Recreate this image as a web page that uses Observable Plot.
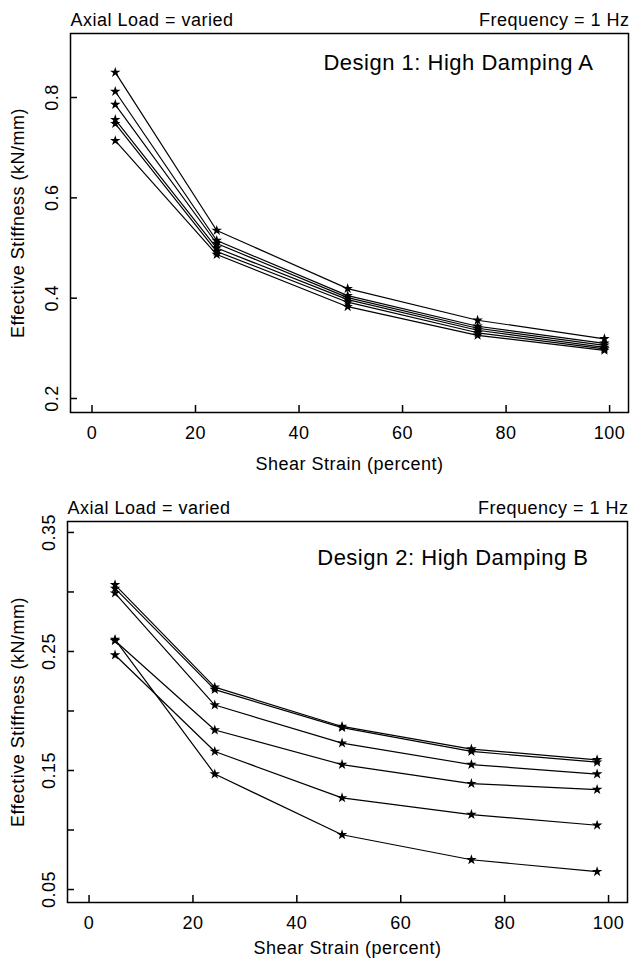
<!DOCTYPE html>
<html>
<head>
<meta charset="utf-8">
<script src="https://cdn.jsdelivr.net/npm/d3@7"></script>
<script src="https://cdn.jsdelivr.net/npm/@observablehq/plot@0.6"></script>
<style>
  body { margin: 0; background: #fff; }
  #chart { width: 632px; height: 966px; overflow: hidden; }
  #chart svg { display: block; }
</style>
</head>
<body>
<div id="chart"></div>
<script>
// ---- Design 1 (High Damping A) ----
const strain1 = [4.5, 24.1, 49.4, 74.5, 99.0];
const d1_s1 = [0.850, 0.535, 0.419, 0.356, 0.319];
const d1_s2 = [0.812, 0.515, 0.405, 0.344, 0.310];
const d1_s3 = [0.786, 0.509, 0.401, 0.340, 0.306];
const d1_s4 = [0.756, 0.500, 0.397, 0.336, 0.302];
const d1_s5 = [0.748, 0.493, 0.392, 0.331, 0.299];
const d1_s6 = [0.714, 0.487, 0.383, 0.326, 0.296];

// ---- Design 2 (High Damping B) ----
const strain2 = [5.0, 24.2, 48.7, 73.6, 97.8];
const d2_s1 = [0.306, 0.220, 0.187, 0.168, 0.159];
const d2_s2 = [0.303, 0.218, 0.186, 0.166, 0.157];
const d2_s3 = [0.299, 0.205, 0.173, 0.155, 0.147];
const d2_s4 = [0.259, 0.184, 0.155, 0.139, 0.134];
const d2_s5 = [0.247, 0.166, 0.127, 0.113, 0.104];
const d2_s6 = [0.260, 0.147, 0.096, 0.075, 0.065];

// ---- ticks & texts ----
const xTicks = [0, 20, 40, 60, 80, 100];
const y1Ticks = [0.2, 0.4, 0.6, 0.8];
const y2Ticks = [0.05, 0.10, 0.15, 0.20, 0.25, 0.30, 0.35];
const y2LabelTicks = [0.05, 0.15, 0.25, 0.35];
const headLeft = "Axial Load = varied";
const headRight = "Frequency = 1 Hz";
const title1 = "Design 1: High Damping A";
const title2 = "Design 2: High Damping B";
const xLabel = "Shear Strain (percent)";
const yLabel = "Effective Stiffness (kN/mm)";

function rows(strain, series) {
  return series.flatMap((vals, i) => vals.map((v, j) => ({s: i, x: strain[j], y: v})));
}

function panel(o) {
  return Plot.plot({
    width: 632,
    height: o.height,
    marginTop: o.m[0], marginRight: o.m[1], marginBottom: o.m[2], marginLeft: o.m[3],
    style: {fontFamily: "'Liberation Sans', Arial, sans-serif", fontSize: "18px", color: "#000", background: "#fff", overflow: "visible", letterSpacing: "0.5px"},
    x: {domain: [-4.15, 103.65]},
    y: {domain: o.yDomain},
    marks: [
      Plot.frame({stroke: "#000", strokeWidth: 1.5}),
      Plot.axisX({ticks: xTicks, tickSize: -7, tickPadding: 21, tickFormat: d => String(d), label: null, strokeWidth: 1.5}),
      Plot.axisY({ticks: o.yTicks, tickSize: -7, tickFormat: () => "", label: null, strokeWidth: 1.5}),
      Plot.axisY({ticks: o.yLabelTicks, tickSize: 0, tickRotate: -90, tickPadding: 13, tickFormat: o.yFmt, label: null}),
      Plot.line(o.data, {x: "x", y: "y", z: "s", stroke: "#000", strokeWidth: 1.2}),
      Plot.dot(o.data, {x: "x", y: "y", symbol: "star", r: 3.3, fill: "#000", stroke: "none"}),
      Plot.text([o.title], {frameAnchor: "top-right", dx: o.titleDx, dy: o.titleDy, textAnchor: "end", lineAnchor: "middle", fontSize: 22}),
      Plot.text([headLeft], {frameAnchor: "top-left", dx: 0, dy: -13, textAnchor: "start", lineAnchor: "middle"}),
      Plot.text([headRight], {frameAnchor: "top-right", dx: 1, dy: -13, textAnchor: "end", lineAnchor: "middle"}),
      Plot.text([xLabel], {frameAnchor: "bottom", dy: o.xLabelDy, textAnchor: "middle", lineAnchor: "middle"}),
      Plot.text([yLabel], {frameAnchor: "left", dx: o.yLabelDx, rotate: -90, textAnchor: "middle", lineAnchor: "middle"})
    ]
  });
}

const chart = document.getElementById("chart");
chart.append(panel({
  height: 483,
  m: [33, 4, 71, 70],
  yDomain: [0.1721, 0.9276],
  yTicks: y1Ticks,
  yLabelTicks: y1Ticks,
  yFmt: d => d.toFixed(1),
  data: rows(strain1, [d1_s1, d1_s2, d1_s3, d1_s4, d1_s5, d1_s6]),
  title: title1, titleDx: -35, titleDy: 29,
  xLabelDy: 52, yLabelDx: -52
}));
chart.append(panel({
  height: 483,
  m: [38, 5, 64, 67],
  yDomain: [0.0391, 0.3592],
  yTicks: y2Ticks,
  yLabelTicks: y2LabelTicks,
  yFmt: d => d.toFixed(2),
  data: rows(strain2, [d2_s1, d2_s2, d2_s3, d2_s4, d2_s5, d2_s6]),
  title: title2, titleDx: -39, titleDy: 36,
  xLabelDy: 46, yLabelDx: -49
}));
</script>
</body>
</html>
